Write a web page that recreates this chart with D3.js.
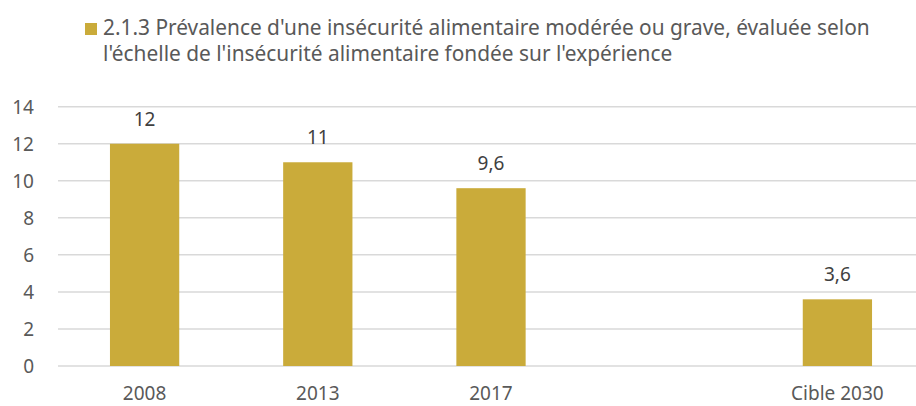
<!DOCTYPE html>
<html>
<head>
<meta charset="utf-8">
<script src="https://cdn.jsdelivr.net/npm/d3@7"></script>
<style>
  body { margin: 0; background: #fff; }
  text { font-family: "Noto Sans", "Open Sans", sans-serif; }
</style>
</head>
<body>
<script>
const categories = ["2008", "2013", "2017", "", "Cible 2030"]
const values = [12, 11, 9.6, null, 3.6]
const valueLabels = ["12", "11", "9,6", "", "3,6"]
const yTicks = [0, 2, 4, 6, 8, 10, 12, 14]
const legendLines = [
  "2.1.3 Prévalence d'une insécurité alimentaire modérée ou grave, évaluée selon",
  "l'échelle de l'insécurité alimentaire fondée sur l'expérience"
]

const width = 916, height = 406
const barColor = '#CAAB3A'

const svg = d3.select('body')
  .append('svg')
  .attr('width', width)
  .attr('height', height)

// plot runs a bit past the right edge, like the cropped original
const x = d3.scaleBand()
  .domain(d3.range(categories.length))
  .range([58, 924])
  .paddingInner(0.6)
  .paddingOuter(0.3)

const y = d3.scaleLinear()
  .domain([0, 14])
  .range([366, 106.7])

// gridlines
svg.append('g')
  .selectAll('line')
  .data(yTicks)
  .enter().append('line')
    .attr('x1', 58)
    .attr('x2', width)
    .attr('y1', d => y(d))
    .attr('y2', d => y(d))
    .attr('stroke', '#D9D9D9')
    .attr('stroke-width', 1.5)

// y tick labels
svg.append('g')
  .selectAll('text')
  .data(yTicks)
  .enter().append('text')
    .attr('x', 34)
    .attr('y', d => y(d))
    .attr('dy', '0.36em')
    .attr('text-anchor', 'end')
    .attr('fill', '#595959')
    .style('font-size', '19px')
    .text(d => d)

const data = categories.map((c, i) => ({ cat: c, value: values[i], label: valueLabels[i], i }))

svg.append('g')
  .selectAll('rect')
  .data(data.filter(d => d.value != null))
  .enter().append('rect')
    .attr('x', d => x(d.i))
    .attr('y', d => y(d.value))
    .attr('width', x.bandwidth())
    .attr('height', d => y(0) - y(d.value))
    .attr('fill', barColor)

// value labels
svg.append('g')
  .selectAll('text')
  .data(data.filter(d => d.value != null))
  .enter().append('text')
    .attr('x', d => x(d.i) + x.bandwidth() / 2)
    .attr('y', d => y(d.value) - 18)
    .attr('text-anchor', 'middle')
    .attr('fill', '#404040')
    .style('font-size', '19px')
    .text(d => d.label)

// x labels
svg.append('g')
  .selectAll('text')
  .data(data)
  .enter().append('text')
    .attr('x', d => x(d.i) + x.bandwidth() / 2)
    .attr('y', 400)
    .attr('text-anchor', 'middle')
    .attr('fill', '#595959')
    .style('font-size', '19px')
    .text(d => d.cat)

// legend
svg.append('rect')
  .attr('x', 85)
  .attr('y', 23)
  .attr('width', 12)
  .attr('height', 12)
  .attr('fill', barColor)

const legend = svg.append('g')
legend.selectAll('text')
  .data(legendLines)
  .enter().append('text')
    .attr('x', 103)
    .attr('y', (d, i) => 35 + i * 26)
    .attr('fill', '#595959')
    .style('font-size', '19px')
    .text(d => d)

// fit first line to the original width (about 767px)
const first = legend.select('text').node()
const w = first.getComputedTextLength()
const fs = 19 * 767 / w
legend.selectAll('text').style('font-size', fs + 'px')
</script>
</body>
</html>
